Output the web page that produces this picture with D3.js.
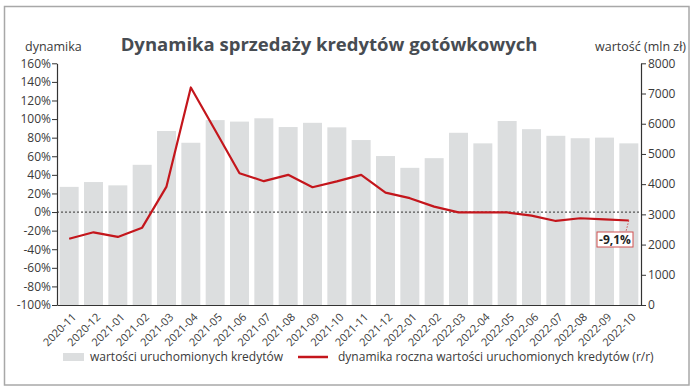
<!DOCTYPE html>
<html><head><meta charset="utf-8">
<script src="https://cdn.jsdelivr.net/npm/d3@7"></script>
<style>body{margin:0;background:#fff}svg{display:block}text{font-family:"Open Sans",sans-serif}</style>
</head><body>
<svg id="c" width="696" height="392"></svg>
<script>
const categories = ["2020-11","2020-12","2021-01","2021-02","2021-03","2021-04","2021-05","2021-06","2021-07","2021-08","2021-09","2021-10","2021-11","2021-12","2022-01","2022-02","2022-03","2022-04","2022-05","2022-06","2022-07","2022-08","2022-09","2022-10"];
const values = [3910,4070,3960,4640,5760,5370,6120,6070,6180,5890,6030,5880,5460,4930,4540,4860,5700,5350,6090,5820,5600,5520,5540,5350];
const dynamics = [-28.7,-21.8,-26.8,-16.8,27.4,134,88,41.8,33.2,40,26.7,33,40,20.9,14.9,5.8,-0.4,-0.4,-0.4,-3.9,-9.6,-6.7,-7.8,-9.1];
const leftTicks = [-100,-80,-60,-40,-20,0,20,40,60,80,100,120,140,160];
const rightTicks = [0,1000,2000,3000,4000,5000,6000,7000,8000];
const title = "Dynamika sprzedaży kredytów gotówkowych";
const annotation = "-9,1%";

const svg = d3.select("#c");
const L = 57, R = 641, T = 63.3, B = 305;
const x = d3.scaleBand().domain(categories).range([L, R]).paddingInner(0.22).paddingOuter(0.11);
const yL = d3.scaleLinear().domain([-100,160]).range([B,T]);
const yR = d3.scaleLinear().domain([0,8000]).range([B,T]);
const tc = "#3a3a3a";

// frame
svg.append("rect").attr("x",4.5).attr("y",6.5).attr("width",684.5).attr("height",378.5)
  .attr("fill","none").attr("stroke","#a8a8a8").attr("stroke-width",1.5);

// bars
svg.append("g").selectAll("rect").data(values).join("rect")
  .attr("x",(d,i)=>x(categories[i])).attr("width",x.bandwidth())
  .attr("y",d=>yR(d)).attr("height",d=>yR(0)-yR(d)).attr("fill","#dcdedf");

// zero line
svg.append("line").attr("x1",L).attr("x2",R).attr("y1",yL(0)).attr("y2",yL(0))
  .attr("stroke","#555").attr("stroke-width",1.2).attr("stroke-dasharray","2,2");

// axes
const gl = svg.append("g").attr("transform",`translate(${L},0)`)
  .call(d3.axisLeft(yL).tickValues(leftTicks).tickFormat(d=>d+"%").tickSize(5).tickSizeOuter(0));
const gr = svg.append("g").attr("transform",`translate(${R},0)`)
  .call(d3.axisRight(yR).tickValues(rightTicks).tickFormat(d=>String(d)).tickSize(5).tickSizeOuter(0));
const gx = svg.append("g").attr("transform",`translate(0,${B})`)
  .call(d3.axisBottom(x).tickSize(0).tickSizeOuter(0));
[gl,gr,gx].forEach(g=>{
  g.select(".domain").attr("stroke","#333").attr("stroke-width",1.2);
  g.selectAll(".tick line").attr("stroke","#333");
  g.selectAll("text").attr("fill",tc).style("font-size","12px").style("font-family","'Open Sans',sans-serif");
});
gl.selectAll("text").attr("x",-6);
gr.selectAll("text").attr("x",7);
gx.selectAll("text").attr("text-anchor","end").attr("dy","0.35em")
  .attr("transform","translate(5,10) rotate(-45)").attr("y",0).style("font-size","11px");

// line
const line = d3.line().x((d,i)=>x(categories[i])+x.bandwidth()/2).y(d=>yL(d));
svg.append("path").datum(dynamics).attr("d",line).attr("fill","none")
  .attr("stroke","#c4161c").attr("stroke-width",2.2).attr("stroke-linejoin","round");

// annotation
const li = dynamics.length-1;
const ax = x(categories[li])+x.bandwidth()/2, ay = yL(dynamics[li]);
svg.append("line").attr("x1",ax).attr("y1",ay).attr("x2",ax-3).attr("y2",232)
  .attr("stroke","#d05050").attr("stroke-width",1).attr("stroke-dasharray","1.5,1.5");
svg.append("rect").attr("x",597).attr("y",232).attr("width",36).attr("height",15)
  .attr("fill","#fff").attr("stroke","#d05050").attr("stroke-width",1);
svg.append("text").attr("x",615).attr("y",244).attr("text-anchor","middle")
  .style("font-size","12px").style("font-weight","bold").attr("fill","#222").text(annotation);

// titles
svg.append("text").attr("x",329).attr("y",51).attr("text-anchor","middle")
  .style("font-size","18.5px").style("font-weight","bold").attr("fill","#474c52").text(title);
svg.append("text").attr("x",25).attr("y",51).style("font-size","12.5px").attr("fill",tc).text("dynamika");
svg.append("text").attr("x",686).attr("y",51).attr("text-anchor","end").style("font-size","12.5px").attr("fill",tc).text("wartość (mln zł)");

// legend
svg.append("rect").attr("x",63).attr("y",353).attr("width",21).attr("height",8).attr("fill","#dcdedf");
svg.append("text").attr("x",90).attr("y",361).style("font-size","12px").attr("fill",tc).text("wartości uruchomionych kredytów");
svg.append("line").attr("x1",298).attr("x2",328).attr("y1",357).attr("y2",357).attr("stroke","#c4161c").attr("stroke-width",2.5);
svg.append("text").attr("x",338).attr("y",361).style("font-size","12px").attr("fill",tc).text("dynamika roczna wartości uruchomionych kredytów (r/r)");
</script>
</body></html>
